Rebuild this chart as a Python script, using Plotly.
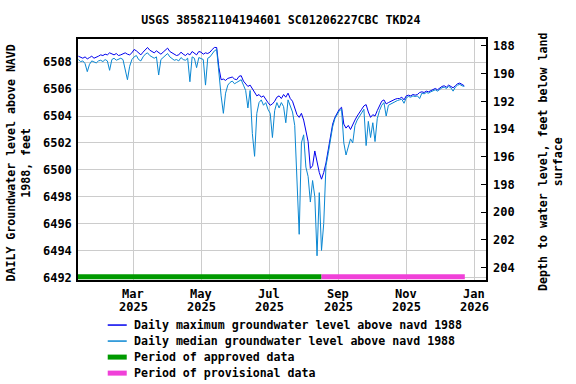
import pandas as pd
import plotly.graph_objects as go

title_text = "USGS 385821104194601 SC01206227CBC TKD24"
start_date = "2025-01-11"

daily_max = [
    6508.45, 6508.35, 6508.30, 6508.40, 6508.25, 6508.35, 6508.45, 6508.30, 6508.35, 6508.45,
    6508.55, 6508.50, 6508.60, 6508.55, 6508.70, 6508.60, 6508.55, 6508.65, 6508.50, 6508.55,
    6508.65, 6508.70, 6508.60, 6508.55, 6508.70, 6508.95, 6508.85, 6508.70, 6508.55, 6508.75,
    6508.95, 6509.10, 6508.90, 6508.80, 6508.70, 6508.85, 6508.75, 6508.60, 6508.75, 6508.90,
    6509.05, 6508.80, 6508.70, 6508.60, 6508.50, 6508.55, 6508.75, 6508.60, 6508.50, 6508.65,
    6508.55, 6508.80, 6508.70, 6508.55, 6508.80, 6508.75, 6508.60, 6508.70, 6508.65, 6508.75,
    6508.95, 6509.10, 6509.10, 6507.60, 6506.70, 6506.75, 6506.65, 6506.80, 6506.85, 6506.90,
    6506.75, 6506.70, 6506.95, 6507.00, 6506.60, 6506.40, 6506.20, 6506.30, 6506.05, 6505.70,
    6505.50, 6505.60, 6505.40, 6505.50, 6505.20, 6505.00, 6504.80, 6504.90, 6505.10, 6505.40,
    6505.50, 6505.30, 6505.60, 6505.40, 6505.70, 6505.30, 6505.10, 6504.50, 6504.10, 6503.90,
    6504.20, 6503.70, 6502.90, 6502.10, 6500.10, 6500.30, 6501.40, 6500.60, 6499.80, 6499.30,
    6499.80, 6500.50, 6501.50, 6502.60, 6503.40, 6503.90, 6504.20, 6504.50, 6504.65, 6503.40,
    6503.10, 6503.30, 6503.00, 6503.40, 6503.70, 6504.00, 6504.30, 6504.50, 6504.75, 6504.85,
    6504.30, 6503.90, 6504.10, 6504.00, 6504.40, 6504.80, 6505.10, 6505.20, 6504.90, 6505.00,
    6505.10, 6505.20, 6505.25, 6505.30, 6505.30, 6505.40, 6505.20, 6505.50, 6505.55, 6505.50,
    6505.60, 6505.55, 6505.60, 6505.75, 6505.80, 6505.75, 6505.85, 6505.80, 6505.90, 6506.00,
    6506.05, 6505.95, 6506.10, 6506.20, 6506.25, 6506.15, 6506.30, 6506.20, 6506.10, 6506.25,
    6506.40, 6506.45, 6506.35, 6506.25,
]

daily_median = [
    6508.20, 6508.05, 6508.10, 6507.90, 6507.30, 6507.85, 6508.10, 6508.00, 6507.95, 6508.10,
    6508.15, 6508.05, 6508.20, 6508.10, 6507.40, 6508.20, 6508.30, 6508.15, 6508.25, 6508.30,
    6508.20, 6507.55, 6506.70, 6507.70, 6508.20, 6508.40, 6508.50, 6508.20, 6508.10, 6508.40,
    6508.60, 6508.70, 6508.50, 6508.40, 6508.30, 6508.40, 6507.05, 6508.20, 6508.35, 6508.50,
    6508.65, 6508.40, 6508.30, 6508.15, 6508.20, 6508.10, 6508.35, 6508.20, 6508.15, 6508.30,
    6506.55, 6508.40, 6508.30, 6507.60, 6508.35, 6508.30, 6508.20, 6506.30, 6508.30, 6508.40,
    6508.60, 6508.85, 6508.95, 6507.00, 6505.50, 6504.20, 6505.70, 6506.30, 6506.50, 6506.60,
    6506.40, 6506.50, 6506.60, 6506.70, 6506.30, 6505.90, 6504.60, 6505.90, 6502.70, 6501.00,
    6504.20, 6505.00, 6505.20, 6504.80, 6505.00, 6504.50, 6504.20, 6502.40, 6504.40, 6505.00,
    6504.60, 6505.00, 6504.70, 6503.50, 6505.20, 6504.80, 6504.30, 6503.30, 6498.80, 6495.20,
    6502.00, 6502.60, 6500.20, 6499.50, 6497.60, 6499.20, 6498.00, 6493.60, 6498.30, 6494.00,
    6496.00, 6500.30, 6501.20, 6502.40, 6503.20, 6503.80, 6504.10, 6504.40, 6504.50, 6502.00,
    6501.10, 6501.70, 6502.30, 6502.00, 6503.30, 6503.70, 6504.00, 6504.30, 6504.50, 6501.80,
    6503.60, 6502.40, 6503.50, 6502.10, 6503.80, 6504.40, 6504.80, 6505.00, 6504.00, 6504.80,
    6504.90, 6505.00, 6505.10, 6505.15, 6505.20, 6505.25, 6504.95, 6505.35, 6505.45, 6505.40,
    6505.50, 6505.45, 6505.50, 6505.30, 6505.70, 6505.65, 6505.75, 6505.70, 6505.80, 6505.90,
    6505.95, 6505.85, 6506.00, 6506.10, 6506.15, 6506.05, 6506.20, 6506.10, 6505.85, 6506.15,
    6506.30, 6506.35, 6506.25, 6506.20,
]

approved_period = ["2025-01-10 16:00", "2025-08-17"]
provisional_period = ["2025-08-17", "2025-12-23 12:00"]
period_level = 6492.05

x_tick_dates = ["2025-03-01", "2025-05-01", "2025-07-01", "2025-09-01", "2025-11-01", "2026-01-01"]
x_tick_months = ["Mar", "May", "Jul", "Sep", "Nov", "Jan"]
x_tick_years = ["2025", "2025", "2025", "2025", "2025", "2026"]
left_ticks = [6492, 6494, 6496, 6498, 6500, 6502, 6504, 6506, 6508]
right_ticks = [188, 190, 192, 194, 196, 198, 200, 202, 204]

left_title = "DAILY Groundwater level above NAVD<br>1988, feet"
right_title = "Depth to water level, feet below land<br>surface"

dates = pd.date_range(start_date, periods=len(daily_max), freq="2D")

FONT = "DejaVu Sans Mono"
fsize = 11.6
C_MAX, C_MED, C_APP, C_PROV = "#0000EE", "#0A87D2", "#009A00", "#F040D8"

# plot-area pixel geometry for paper-coordinate conversion
PL, PR, PT, PB = 78.3, 486.0, 39.3, 280.0
def px(x):
    return (x - PL) / (PR - PL)
def py(y):
    return (PB - y) / (PB - PT)

fig = go.Figure()
traces = [
    (dates, daily_max, C_MAX, 1, "Daily maximum groundwater level above navd 1988"),
    (dates, daily_median, C_MED, 1, "Daily median groundwater level above navd 1988"),
    (approved_period, [period_level] * 2, C_APP, 5, "Period of approved data"),
    (provisional_period, [period_level] * 2, C_PROV, 5, "Period of provisional data"),
]
for xs, ys, col, w, nm in traces:
    fig.add_trace(go.Scatter(x=xs, y=ys, mode="lines", line=dict(color=col, width=w),
                             name=nm, showlegend=False))
fig.add_trace(go.Scatter(x=[dates[0]], y=[196], yaxis="y2", mode="lines",
                         showlegend=False, hoverinfo="skip", line=dict(width=0)))

annotations = []
shapes = []
# manual legend
legend_rows = [325, 341, 357, 373]
for (xs, ys, col, w, nm), ry in zip(traces, legend_rows):
    shapes.append(dict(type="line", xref="paper", yref="paper",
                       x0=px(108), x1=px(127), y0=py(ry), y1=py(ry),
                       line=dict(color=col, width=1.5 if w < 5 else 5)))
    annotations.append(dict(text=nm, xref="paper", yref="paper", x=px(132), y=py(ry),
                            xanchor="left", yanchor="middle", showarrow=False,
                            font=dict(family=FONT, size=fsize, weight="bold")))
# x tick labels (two lines)
for d, m, yr in zip(x_tick_dates, x_tick_months, x_tick_years):
    annotations.append(dict(text=m, x=d, xref="x", y=py(294), yref="paper",
                            xanchor="center", yanchor="middle", showarrow=False,
                            font=dict(family=FONT, size=12, weight="bold")))
    annotations.append(dict(text=yr, x=d, xref="x", y=py(307), yref="paper",
                            xanchor="center", yanchor="middle", showarrow=False,
                            font=dict(family=FONT, size=12, weight="bold")))
# axis titles
annotations.append(dict(text=left_title, xref="paper", yref="paper", x=px(19), y=py(163),
                        xanchor="center", yanchor="middle", textangle=-90, showarrow=False,
                        font=dict(family=FONT, size=fsize, weight="bold")))
annotations.append(dict(text=right_title, xref="paper", yref="paper", x=px(551), y=py(162),
                        xanchor="center", yanchor="middle", textangle=-90, showarrow=False,
                        font=dict(family=FONT, size=fsize, weight="bold")))

fig.update_layout(
    width=576, height=384,
    margin=dict(l=78, r=90, t=39, b=104, autoexpand=False),
    paper_bgcolor="white", plot_bgcolor="white",
    font=dict(family=FONT, size=fsize, color="black", weight="bold"),
    title=dict(text=title_text, xref="paper", x=px(281), xanchor="center",
               y=1 - 20 / 384, yanchor="middle",
               font=dict(family=FONT, size=fsize, weight="bold")),
    showlegend=False,
    annotations=annotations,
    shapes=shapes,
    xaxis=dict(type="date", range=["2025-01-10 16:00", "2026-01-11 12:00"],
               tickvals=x_tick_dates, showticklabels=False,
               showgrid=True, gridcolor="#CCCCCC", gridwidth=1,
               showline=True, linecolor="black", linewidth=1.5, mirror=True,
               ticks="", zeroline=False, automargin=False),
    yaxis=dict(range=[6491.8, 6509.73], tickvals=left_ticks,
               tickfont=dict(family=FONT, size=12, weight="bold"),
               showgrid=True, gridcolor="#CCCCCC", gridwidth=1,
               showline=True, linecolor="black", linewidth=1.5, mirror=True,
               ticks="", zeroline=False, automargin=False, ticklabelstandoff=2),
    yaxis2=dict(overlaying="y", side="right", range=[204.9, 187.5], tickvals=right_ticks,
                tickfont=dict(family=FONT, size=12, weight="bold"),
                showgrid=False, zeroline=False, showline=False,
                ticks="inside", ticklen=5, tickcolor="black", tickwidth=1,
                automargin=False, ticklabelstandoff=6),
)

fig.write_html("out.html", config={"displayModeBar": False},
               post_script="document.body.style.margin='0';document.body.style.padding='0';")
